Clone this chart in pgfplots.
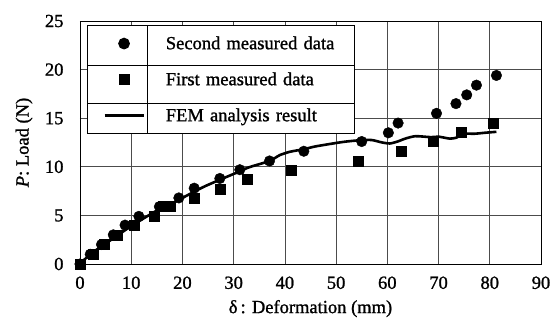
\documentclass[border=0pt]{standalone}
\usepackage{fontspec}
\setmainfont{Liberation Serif}[FakeBold=1.2]
\usepackage{pgfplots}
\pgfplotsset{compat=1.18}
\usetikzlibrary{calc}
\begin{document}
\begin{tikzpicture}
\begin{axis}[
 scale only axis, width=461bp, height=243bp,
 xmin=0, xmax=90, ymin=0, ymax=25,
 xtick={0,10,...,90}, ytick={0,5,...,25},
 grid=major, major grid style={black!70, line width=0.7bp},
 axis line style={black, line width=0.9bp},
 major tick length=0pt,
 /pgf/number format/assume math mode=true,
 tick label style={font=\fontsize{18.5bp}{20bp}\selectfont},
 xticklabel style={yshift=-9bp},
 yticklabel style={xshift=-13bp},
 label style={font=\fontsize{18.5bp}{20bp}\selectfont},
 xlabel={δ\,: Deformation (mm)},
 ylabel={\textit{P}: Load (N)},
 xlabel style={at={(axis description cs:0.5,-0.134)}, anchor=north},
 ylabel style={at={(axis description cs:-0.0955,0.5)}, anchor=south},
 clip=false,
 legend style={name=leg, at={(axis description cs:0.0152,0.9835)}, anchor=north west,
   draw=black, line width=1.1bp, fill=white, inner xsep=15.7bp, inner ysep=0pt,
   column sep=21bp, row sep=0pt, font=\fontsize{18.5bp}{21bp}\selectfont,
   nodes={inner xsep=0pt, inner ysep=0pt, minimum height=36bp, text width=173bp, align=left}},
 legend cell align=left,
 legend image code/.code={\draw[mark repeat=2,mark phase=2,#1] plot coordinates {(0bp,0bp) (19.5bp,0bp) (39bp,0bp)};},
]
\addplot[only marks, mark=*, mark size=5.3bp, black] coordinates {
(0,0) (2,1) (4.2,2) (6.5,3) (8.8,4) (11.5,4.9) (15.5,5.9) (19.3,6.8) (22.3,7.8)
(27.3,8.8) (31.2,9.7) (37,10.6) (43.7,11.6) (55,12.6) (60.2,13.5) (62.1,14.5)
(69.6,15.5) (73.4,16.5) (75.5,17.4) (77.4,18.4) (81.3,19.4)};
\addlegendentry{Second measured data}
\addplot[only marks, mark=square*, mark size=5bp, black] coordinates {
(0,0) (2.6,1) (4.8,2) (7.2,3) (10.5,4) (14.5,4.9) (16.2,5.9) (17.6,5.9) (22.3,6.8)
(27.3,7.7) (32.7,8.7) (41.3,9.7) (54.3,10.6) (62.7,11.6) (69,12.6) (74.5,13.6) (80.7,14.5)};
\addlegendentry{First measured data}
\addplot[black, line width=2.6bp, smooth, tension=0.4, no marks] coordinates {
(0,0) (2,1) (5,2.1) (10,3.9) (15,5.5) (17.6,6.1) (20,6.8) (24,7.9) (27,8.6) (30.6,9.4)
(33,9.95) (37,10.6) (39,11.2) (41,11.55) (43.6,11.8) (46,12.1) (50,12.45) (52,12.6)
(55,12.75) (57,12.75) (59,12.5) (60.5,12.4) (62,12.6) (63.5,12.9) (65.5,13.15) (68.5,13.05)
(70,13.1) (72.2,12.9) (73.5,13.0) (74.8,13.4) (77,13.4) (79,13.5) (81.3,13.6)};
\addlegendentry{FEM analysis result}
\end{axis}
\draw[line width=0.7bp] ($(leg.north west)!0.37!(leg.south west)$) -- ($(leg.north east)!0.37!(leg.south east)$);
\draw[line width=0.7bp] ($(leg.north west)!0.72!(leg.south west)$) -- ($(leg.north east)!0.72!(leg.south east)$);
\draw[line width=0.7bp] ([xshift=60bp]leg.north west) -- ([xshift=60bp]leg.south west);
\pgfresetboundingbox
\useasboundingbox (current axis.south west) ++(-80bp,-56bp) rectangle ++(554bp,320bp);
\end{tikzpicture}
\end{document}
